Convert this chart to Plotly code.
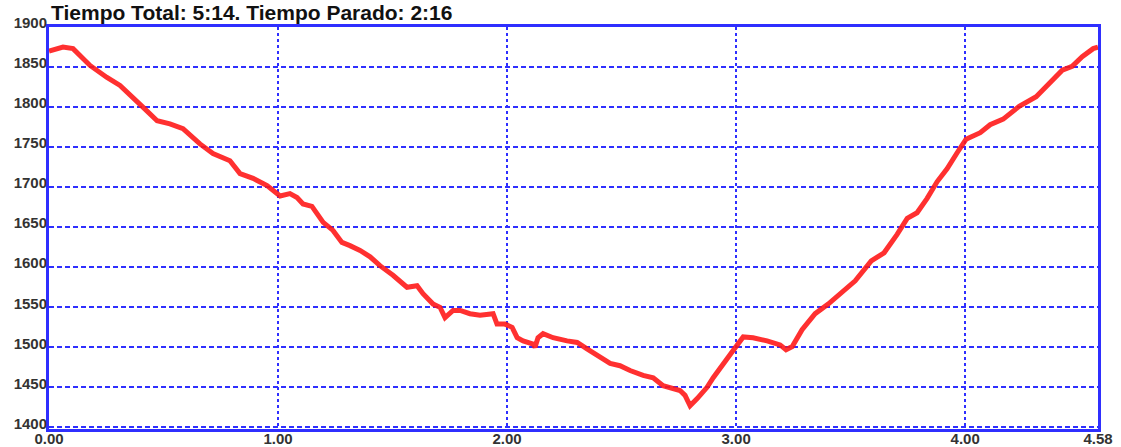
import plotly.graph_objects as go

distance_km = [0.000, 0.061, 0.105, 0.127, 0.179, 0.253, 0.310, 0.410, 0.472, 0.528,
               0.585, 0.659, 0.716, 0.790, 0.834, 0.891, 0.952, 1.009, 1.052, 1.083,
               1.109, 1.148, 1.170, 1.197, 1.240, 1.279, 1.314, 1.358, 1.402, 1.445,
               1.502, 1.563, 1.607, 1.633, 1.677, 1.707, 1.729, 1.764, 1.795, 1.838,
               1.882, 1.939, 1.956, 1.991, 2.022, 2.044, 2.070, 2.114, 2.122, 2.135,
               2.157, 2.201, 2.262, 2.306, 2.349, 2.393, 2.450, 2.493, 2.537, 2.594,
               2.638, 2.681, 2.755, 2.777, 2.799, 2.830, 2.873, 2.900, 2.943, 2.987,
               3.031, 3.074, 3.135, 3.192, 3.218, 3.245, 3.288, 3.345, 3.402, 3.459,
               3.520, 3.590, 3.646, 3.703, 3.747, 3.790, 3.834, 3.878, 3.921, 3.965,
               4.004, 4.066, 4.109, 4.166, 4.236, 4.310, 4.367, 4.424, 4.467, 4.511,
               4.559, 4.580]
elevation_m = [1870, 1875, 1873, 1867, 1852, 1837, 1827, 1800, 1783, 1779,
               1773, 1754, 1742, 1733, 1717, 1711, 1702, 1689, 1692, 1687,
               1679, 1676, 1667, 1656, 1646, 1631, 1627, 1621, 1613, 1602,
               1590, 1575, 1577, 1567, 1554, 1550, 1537, 1546, 1546, 1542,
               1540, 1542, 1529, 1529, 1525, 1512, 1508, 1504, 1500, 1512,
               1517, 1512, 1508, 1506, 1498, 1490, 1480, 1477, 1471, 1465,
               1462, 1452, 1446, 1440, 1427, 1436, 1450, 1462, 1480, 1496,
               1513, 1512, 1508, 1503, 1497, 1501, 1522, 1542, 1554, 1569,
               1583, 1608, 1618, 1641, 1661, 1668, 1686, 1707, 1723, 1743,
               1760, 1768, 1778, 1785, 1801, 1813, 1830, 1846, 1851, 1863,
               1873, 1875]

x_ticks = [0, 1, 2, 3, 4, 4.58]
x_tick_labels = ["0.00", "1.00", "2.00", "3.00", "4.00", "4.58"]
y_ticks = [1400, 1450, 1500, 1550, 1600, 1650, 1700, 1750, 1800, 1850, 1900]
title_text = "Tiempo Total: 5:14. Tiempo Parado: 2:16"

BLUE = "#2f2fff"
tick_font = dict(family="Liberation Sans, Arial, sans-serif", size=15, color="#333333",
                 weight="bold")

fig = go.Figure()
fig.add_trace(go.Scatter(
    x=distance_km, y=elevation_m, mode="lines",
    line=dict(color="rgba(255,25,25,0.9)", width=5),
    hoverinfo="skip", showlegend=False,
))

fig.update_layout(
    template="none",
    width=1121, height=447,
    margin=dict(l=49, r=23, t=27, b=18, autoexpand=False),
    paper_bgcolor="white", plot_bgcolor="white",
    title=dict(text="<b>" + title_text + "</b>",
               x=51 / 1121, xanchor="left", xref="container",
               y=1 - 13 / 447, yanchor="middle", yref="container",
               font=dict(family="Liberation Sans, Arial, sans-serif", size=21, color="#111111")),
)
fig.update_xaxes(
    range=[0, 4.58], tickmode="array", tickvals=x_ticks, ticktext=x_tick_labels,
    showgrid=True, gridcolor=BLUE, gridwidth=2, griddash="3px,3px",
    showline=True, linecolor=BLUE, linewidth=3, mirror=True, automargin=False,
    zeroline=False, ticks="", tickfont=tick_font, ticklabelstandoff=-6,
)
fig.update_yaxes(
    range=[1398, 1900], tickmode="array", tickvals=y_ticks,
    ticktext=[str(v) for v in y_ticks],
    showgrid=True, gridcolor=BLUE, gridwidth=2, griddash="5px,3px",
    showline=True, linecolor=BLUE, linewidth=3, mirror=True, automargin=False,
    zeroline=False, ticks="", tickfont=tick_font, ticklabelstandoff=-4,
    ticklabelshift=-4,
)

fig.write_html("out.html", config={"displayModeBar": False},
               post_script="document.body.style.margin='0';")
